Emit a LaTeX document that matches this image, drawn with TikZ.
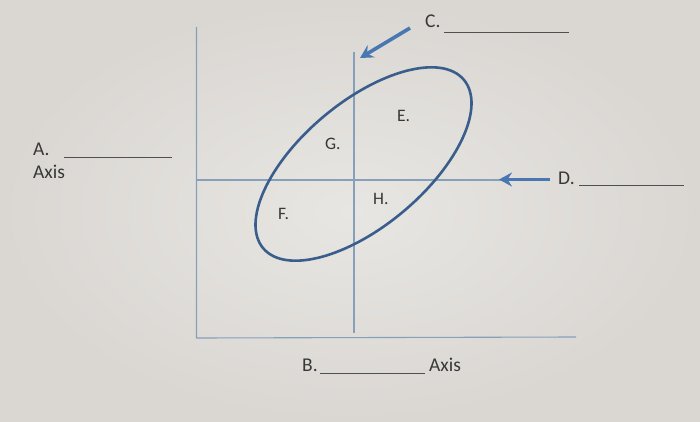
\documentclass[tikz,border=0pt]{standalone}
\usepackage{fontspec}
\setmainfont{Carlito}
\usetikzlibrary{arrows.meta}
\definecolor{bgin}{HTML}{E8E6E2}
\definecolor{bgout}{HTML}{DAD7D3}
\definecolor{axiscol}{HTML}{86A0BA}
\definecolor{ellcol}{HTML}{3A5E8C}
\definecolor{arrcol}{HTML}{4877B2}
\definecolor{txtcol}{HTML}{383838}
\definecolor{blankcol}{HTML}{505050}
\tikzset{
  lbl/.style={anchor=base west, inner sep=0pt, text=txtcol, font=\fontsize{19.5}{21}\selectfont},
  qlbl/.style={anchor=base west, inner sep=0pt, text=txtcol, font=\fontsize{17.5}{19}\selectfont},
  axisline/.style={draw=axiscol, line width=1.1pt},
  blankline/.style={draw=blankcol, line width=0.9pt},
  ellline/.style={draw=ellcol, line width=2.6pt},
  bluearrow/.style={draw=arrcol, line width=3.6pt, -{Stealth[length=13pt,width=14pt,inset=4.5pt]}}
}
\begin{document}
\begin{tikzpicture}[x=1pt,y=-1pt]
\useasboundingbox (0,0) rectangle (700,422);
\shade[inner color=bgin, outer color=bgout] (0,0) rectangle (700,422);
% axes
\coordinate (ytop) at (196.5,27);
\coordinate (orig) at (196.5,338);
\coordinate (xend) at (576,337);
\draw[axisline] (ytop) -- (orig) -- (xend);
\coordinate (vtop) at (354,52);
\coordinate (vbot) at (354,333);
\draw[axisline] (vtop) -- (vbot);
\coordinate (hleft) at (196.5,180);
\coordinate (hright) at (502,180);
\draw[axisline] (hleft) -- (hright);
% ellipse
\coordinate (ec) at (363.5,164);
\draw[ellline] (ec) ellipse [x radius=131pt, y radius=62pt, rotate=40];
% arrows
\coordinate (cstart) at (410,28);
\coordinate (ctip) at (360,58);
\draw[bluearrow] (cstart) -- (ctip);
\coordinate (dstart) at (550,179.5);
\coordinate (dtip) at (499,179.5);
\draw[bluearrow] (dstart) -- (dtip);
% labels
\node[lbl] (A) at (33,155) {A.};
\node[lbl] (Aaxis) at (33,178) {Axis};
\coordinate (Al1) at (64,157.5);
\coordinate (Al2) at (172,157.5);
\draw[blankline] (Al1) -- (Al2);
\node[lbl] (B) at (302,371) {B.};
\coordinate (Bl1) at (320,373);
\coordinate (Bl2) at (425,373);
\draw[blankline] (Bl1) -- (Bl2);
\node[lbl] (Baxis) at (429,371) {Axis};
\node[lbl] (C) at (425,28) {C.};
\coordinate (Cl1) at (444,32);
\coordinate (Cl2) at (569,32);
\draw[blankline] (Cl1) -- (Cl2);
\node[lbl] (D) at (558,184) {D.};
\coordinate (Dl1) at (579,185.5);
\coordinate (Dl2) at (684,185.5);
\draw[blankline] (Dl1) -- (Dl2);
% quadrant labels
\node[qlbl] (E) at (397,122) {E.};
\node[qlbl] (G) at (325,149.5) {G.};
\node[qlbl] (H) at (373,204) {H.};
\node[qlbl] (F) at (278,219) {F.};
\end{tikzpicture}
\end{document}
